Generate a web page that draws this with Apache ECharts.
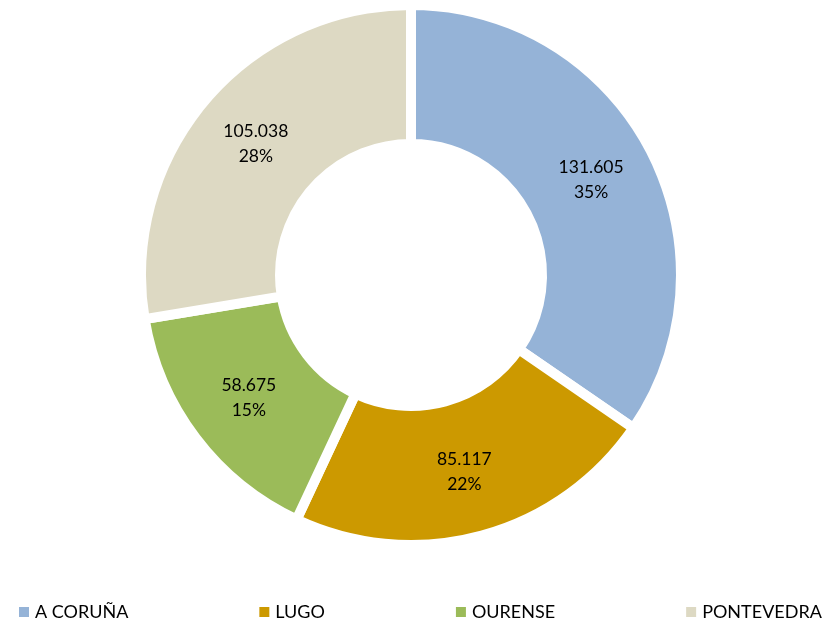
<!DOCTYPE html>
<html><head><meta charset="utf-8">
<script src="https://cdn.jsdelivr.net/npm/echarts@6/dist/echarts.min.js"></script>
<style>html,body{margin:0;padding:0;background:#fff}#c{width:825px;height:622px}</style>
</head><body><div id="c"></div>
<script>
const categories = ['A CORUÑA', 'LUGO', 'OURENSE', 'PONTEVEDRA'];
const values = [131605, 85117, 58675, 105038];
const colors = ['#95B3D7', '#CC9900', '#9BBB59', '#DDD9C3'];

function fmt(v){ return String(v).replace(/\B(?=(\d{3})+(?!\d))/g, '.'); }

const chart = echarts.init(document.getElementById('c'));
chart.setOption({
  animation: false,
  color: colors,
  legend: {
    left: 17, top: 603, padding: 0,
    itemWidth: 12, itemHeight: 12, itemGap: 129, icon: 'rect',
    textStyle: { fontFamily: 'Lato', fontSize: 18, color: '#000' },
    data: categories
  },
  series: [{
    type: 'pie',
    center: [411, 275],
    radius: [131, 270],
    startAngle: 90,
    clockwise: true,
    itemStyle: { borderColor: '#fff', borderWidth: 10 },
    label: {
      position: 'inside',
      fontFamily: 'Lato', fontSize: 17.5, color: '#000', lineHeight: 25,
      formatter: p => fmt(p.value) + '\n' + Math.round(p.percent) + '%'
    },
    labelLine: { show: false },
    emphasis: { disabled: true },
    data: categories.map((n, i) => ({ name: n, value: values[i] }))
  }]
});
</script></body></html>
